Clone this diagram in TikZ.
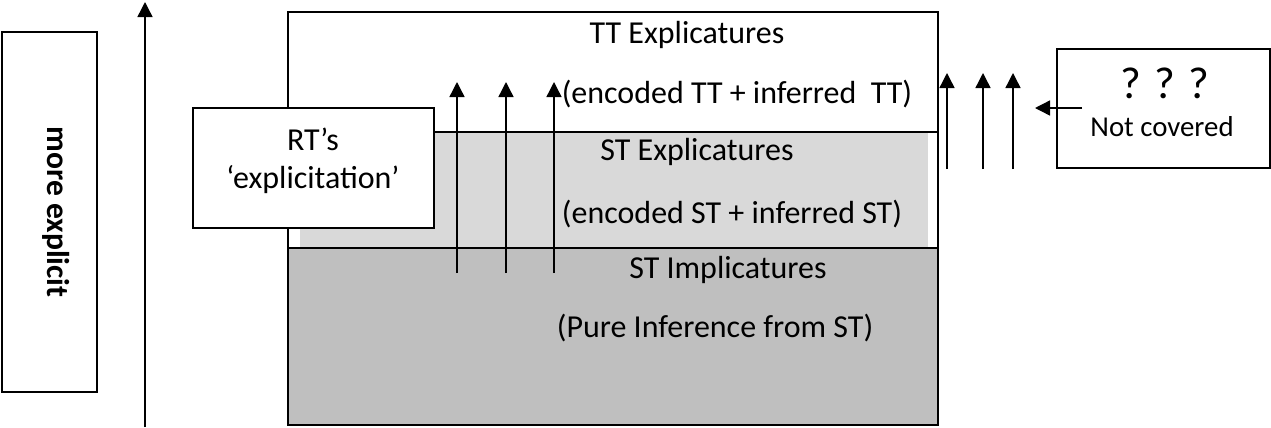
\documentclass[tikz,border=0pt]{standalone}
\usepackage{fontspec}
\setmainfont{Carlito}
\usetikzlibrary{arrows.meta, positioning}

\definecolor{lightgrey}{HTML}{D9D9D9}
\definecolor{darkgrey}{HTML}{BFBFBF}

\tikzset{
  box/.style={draw, line width=1.1pt, fill=white},
  uparrow/.style={-{Triangle[width=0.3cm,length=0.3cm]}, line width=0.8pt},
  lbl/.style={anchor=base, inner sep=0pt, font=\fontsize{18.2}{22}\selectfont},
}

\begin{document}
\begin{tikzpicture}[x=0.02cm, y=-0.02cm]
\useasboundingbox (0,0) rectangle (1271,427);

% left scale
\node[box, minimum width=1.9cm, minimum height=7.2cm] (scalebox) at (49.5,212) {};
\node[rotate=-90, inner sep=0pt, font=\bfseries\fontsize{18}{22}\selectfont] (scaletxt) at (56,212) {more explicit};
\coordinate (low) at (145,427);
\coordinate (high) at (145,2);
\draw[uparrow] (low) -- (high);

% the three layers
\fill[darkgrey] (288,248) rectangle (938,425);
\fill[lightgrey] (300,132) rectangle (928,248);
\draw[line width=1.1pt] (288,12) rectangle (938,425);
\draw[line width=1.1pt] (288,132) -- (938,132);
\draw[line width=1.1pt] (288,248) -- (938,248);

\node[lbl] (tt) at (687,43) {TT Explicatures};
\node[lbl] (ttsub) at (737,103) {(encoded TT + inferred\ \ TT)};
\node[lbl] (st) at (697,160) {ST Explicatures};
\node[lbl] (stsub) at (732,223) {(encoded ST + inferred ST)};
\node[lbl] (impl) at (728,278) {ST Implicatures};
\node[lbl] (implsub) at (715,337) {(Pure Inference from ST)};

% RT box
\node[box, minimum width=4.82cm, minimum height=2.4cm] (rt) at (313.5,168) {};
\node[lbl] (rttop) at (313,150) {RT’s};
\node[lbl] (rtbot) at (313,188) {‘explicitation’};

% arrows inside the block
\foreach \x [count=\i] in {457,506,554} {
  \coordinate (in\i) at (\x,273);
  \coordinate (up\i) at (\x,82);
  \draw[uparrow] (in\i) -- (up\i);
}

% arrows outside the block
\foreach \x [count=\i] in {947,983,1013} {
  \coordinate (ob\i) at (\x,169);
  \coordinate (ot\i) at (\x,73);
  \draw[uparrow] (ob\i) -- (ot\i);
}

% not covered box
\node[box, minimum width=4.26cm, minimum height=2.38cm] (nc) at (1163.5,108.5) {};
\node[lbl, font=\fontsize{25.5}{30}\selectfont] (qq) at (1165,98) {? ? ?};
\node[lbl, font=\fontsize{16.4}{20}\selectfont] (nctxt) at (1162,136) {Not covered};
\coordinate (ncin) at (1082,108);
\coordinate (nctip) at (1035,108);
\draw[uparrow] (ncin) -- (nctip);
\end{tikzpicture}
\end{document}
